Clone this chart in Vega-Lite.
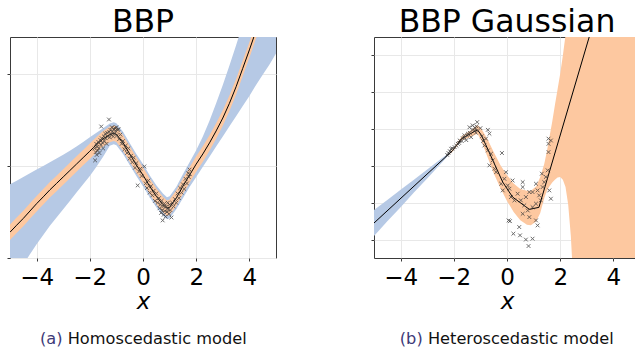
{
  "$schema": "https://vega.github.io/schema/vega-lite/v6.json",
  "background": "white",
  "padding": {"left": 6, "top": 6, "right": 0, "bottom": 0},
  "config": {
    "font": "DejaVu Sans",
    "view": {"stroke": "#3a3a3a", "strokeWidth": 1},
    "axis": {"grid": true, "gridColor": "#e8e8e8", "gridWidth": 1, "tickColor": "#3a3a3a", "tickSize": 3, "domain": false, "labelFontSize": 23, "labelColor": "#000", "labelPadding": 5, "titleFontSize": 23, "titleFontWeight": "normal", "titleColor": "#000", "titleFontStyle": "italic", "titlePadding": 1},
    "title": {"fontSize": 31.5, "fontWeight": "normal", "color": "#000", "baseline": "alphabetic", "offset": -1, "anchor": "middle", "frame": "group"}
  },
  "datasets": {
    "A": [
      {"x": -5, "m": -3.6, "olo": -4.02, "ohi": -3.18, "blo": -6.4, "bhi": -1.0},
      {"x": -4.75, "m": -3.22, "olo": -3.64, "ohi": -2.8, "blo": -5.9, "bhi": -0.8},
      {"x": -4.5, "m": -2.85, "olo": -3.27, "ohi": -2.43, "blo": -5.35, "bhi": -0.6},
      {"x": -4.25, "m": -2.45, "olo": -2.87, "ohi": -2.03, "blo": -4.8, "bhi": -0.4},
      {"x": -4, "m": -2.05, "olo": -2.47, "ohi": -1.63, "blo": -4.25, "bhi": -0.2},
      {"x": -3.75, "m": -1.68, "olo": -2.1, "ohi": -1.26, "blo": -3.75, "bhi": 0.0},
      {"x": -3.5, "m": -1.3, "olo": -1.72, "ohi": -0.88, "blo": -3.25, "bhi": 0.2},
      {"x": -3.25, "m": -0.95, "olo": -1.37, "ohi": -0.53, "blo": -2.8, "bhi": 0.4},
      {"x": -3, "m": -0.6, "olo": -1.02, "ohi": -0.18, "blo": -2.35, "bhi": 0.6},
      {"x": -2.75, "m": -0.25, "olo": -0.67, "ohi": 0.17, "blo": -1.9, "bhi": 0.82},
      {"x": -2.5, "m": 0.1, "olo": -0.32, "ohi": 0.52, "blo": -1.45, "bhi": 1.05},
      {"x": -2.25, "m": 0.45, "olo": 0.03, "ohi": 0.87, "blo": -1.0, "bhi": 1.3},
      {"x": -2, "m": 0.8, "olo": 0.38, "ohi": 1.22, "blo": -0.55, "bhi": 1.55},
      {"x": -1.75, "m": 1.15, "olo": 0.73, "ohi": 1.57, "blo": -0.05, "bhi": 1.8},
      {"x": -1.5, "m": 1.47, "olo": 1.05, "ohi": 1.89, "blo": 0.5, "bhi": 2.05},
      {"x": -1.25, "m": 1.7, "olo": 1.28, "ohi": 2.12, "blo": 1.1, "bhi": 2.3},
      {"x": -1.1, "m": 1.77, "olo": 1.35, "ohi": 2.19, "blo": 1.17, "bhi": 2.37},
      {"x": -1.0, "m": 1.72, "olo": 1.3, "ohi": 2.14, "blo": 1.12, "bhi": 2.32},
      {"x": -0.75, "m": 1.25, "olo": 0.83, "ohi": 1.67, "blo": 0.65, "bhi": 1.85},
      {"x": -0.5, "m": 0.65, "olo": 0.23, "ohi": 1.07, "blo": 0.05, "bhi": 1.25},
      {"x": -0.25, "m": 0.05, "olo": -0.37, "ohi": 0.47, "blo": -0.55, "bhi": 0.65},
      {"x": 0, "m": -0.5, "olo": -0.92, "ohi": -0.08, "blo": -1.1, "bhi": 0.1},
      {"x": 0.25, "m": -1.1, "olo": -1.52, "ohi": -0.68, "blo": -1.7, "bhi": -0.5},
      {"x": 0.5, "m": -1.65, "olo": -2.07, "ohi": -1.23, "blo": -2.25, "bhi": -1.05},
      {"x": 0.75, "m": -2.1, "olo": -2.52, "ohi": -1.68, "blo": -2.7, "bhi": -1.5},
      {"x": 0.9, "m": -2.3, "olo": -2.72, "ohi": -1.88, "blo": -2.9, "bhi": -1.7},
      {"x": 1.0, "m": -2.25, "olo": -2.67, "ohi": -1.83, "blo": -2.85, "bhi": -1.65},
      {"x": 1.25, "m": -1.75, "olo": -2.17, "ohi": -1.33, "blo": -2.35, "bhi": -1.15},
      {"x": 1.5, "m": -1.1, "olo": -1.52, "ohi": -0.68, "blo": -1.75, "bhi": -0.45},
      {"x": 1.75, "m": -0.5, "olo": -0.92, "ohi": -0.08, "blo": -1.15, "bhi": 0.2},
      {"x": 2.0, "m": 0.1, "olo": -0.32, "ohi": 0.52, "blo": -0.6, "bhi": 0.85},
      {"x": 2.25, "m": 0.65, "olo": 0.23, "ohi": 1.07, "blo": -0.05, "bhi": 1.6},
      {"x": 2.5, "m": 1.25, "olo": 0.83, "ohi": 1.67, "blo": 0.5, "bhi": 2.45},
      {"x": 2.75, "m": 1.9, "olo": 1.48, "ohi": 2.32, "blo": 1.05, "bhi": 3.4},
      {"x": 3.0, "m": 2.6, "olo": 2.18, "ohi": 3.02, "blo": 1.6, "bhi": 4.4},
      {"x": 3.25, "m": 3.4, "olo": 2.98, "ohi": 3.82, "blo": 2.15, "bhi": 5.45},
      {"x": 3.5, "m": 4.3, "olo": 3.88, "ohi": 4.72, "blo": 2.7, "bhi": 6.55},
      {"x": 3.75, "m": 5.3, "olo": 4.88, "ohi": 5.72, "blo": 3.25, "bhi": 7.7},
      {"x": 4.0, "m": 6.3, "olo": 5.88, "ohi": 6.72, "blo": 3.8, "bhi": 8.9},
      {"x": 4.25, "m": 7.35, "olo": 6.93, "ohi": 7.77, "blo": 4.4, "bhi": 10.1},
      {"x": 4.5, "m": 8.4, "olo": 7.98, "ohi": 8.82, "blo": 4.95, "bhi": 11.3},
      {"x": 4.75, "m": 9.45, "olo": 9.03, "ohi": 9.87, "blo": 5.5, "bhi": 12.5},
      {"x": 5.0, "m": 10.5, "olo": 10.08, "ohi": 10.92, "blo": 6.1, "bhi": 13.7}
    ],
    "pA": [
      {"x": -1.82, "y": 0.95}, {"x": -1.8, "y": 0.3}, {"x": -1.78, "y": 0.75}, {"x": -1.76, "y": 1.2}, {"x": -1.74, "y": 0.6},
      {"x": -1.72, "y": 1.05}, {"x": -1.7, "y": 0.85}, {"x": -1.68, "y": 1.3}, {"x": -1.66, "y": 0.95}, {"x": -1.64, "y": 0.7},
      {"x": -1.6, "y": 1.4}, {"x": -1.58, "y": 1.15}, {"x": -1.57, "y": 2.14}, {"x": -1.55, "y": 1.5}, {"x": -1.52, "y": 1.25},
      {"x": -1.5, "y": 0.95}, {"x": -1.47, "y": 1.6}, {"x": -1.45, "y": 1.35}, {"x": -1.42, "y": 1.75}, {"x": -1.4, "y": 1.5},
      {"x": -1.37, "y": 1.2}, {"x": -1.35, "y": 1.8}, {"x": -1.32, "y": 1.6}, {"x": -1.28, "y": 2.52}, {"x": -1.27, "y": 1.85},
      {"x": -1.25, "y": 1.55}, {"x": -1.22, "y": 1.95}, {"x": -1.2, "y": 1.7}, {"x": -1.17, "y": 2.1}, {"x": -1.15, "y": 1.85},
      {"x": -1.12, "y": 1.6}, {"x": -1.1, "y": 2.0}, {"x": -1.08, "y": 1.75}, {"x": -1.05, "y": 2.05}, {"x": -1.03, "y": 1.9},
      {"x": -1.0, "y": 2.1}, {"x": -0.98, "y": 1.65}, {"x": -0.95, "y": 1.95}, {"x": -0.92, "y": 2.0}, {"x": -0.9, "y": 1.45},
      {"x": -0.85, "y": 1.7}, {"x": -0.8, "y": 1.2}, {"x": -0.75, "y": 1.35}, {"x": -0.7, "y": 0.9}, {"x": -0.65, "y": 1.1},
      {"x": -0.6, "y": 0.7}, {"x": -0.55, "y": 0.95}, {"x": -0.5, "y": 0.4}, {"x": -0.45, "y": 0.55}, {"x": -0.4, "y": 0.2},
      {"x": -0.35, "y": 0.45}, {"x": -0.3, "y": -0.1}, {"x": -0.25, "y": 0.15}, {"x": -0.2, "y": -1.06}, {"x": -0.15, "y": -0.3},
      {"x": -0.1, "y": -0.15}, {"x": -0.05, "y": -0.55}, {"x": 0.05, "y": -0.03}, {"x": 0.1, "y": -0.95}, {"x": 0.15, "y": -1.2},
      {"x": 0.2, "y": -0.8}, {"x": 0.25, "y": -1.45}, {"x": 0.3, "y": -1.1}, {"x": 0.35, "y": -1.6}, {"x": 0.4, "y": -1.35},
      {"x": 0.45, "y": -1.9}, {"x": 0.5, "y": -1.5}, {"x": 0.55, "y": -2.0}, {"x": 0.6, "y": -1.75}, {"x": 0.62, "y": -2.3},
      {"x": 0.65, "y": -2.1}, {"x": 0.68, "y": -2.55}, {"x": 0.7, "y": -1.9}, {"x": 0.72, "y": -2.4}, {"x": 0.74, "y": -2.96},
      {"x": 0.76, "y": -2.2}, {"x": 0.78, "y": -2.65}, {"x": 0.8, "y": -2.05}, {"x": 0.82, "y": -2.45}, {"x": 0.85, "y": -2.75},
      {"x": 0.88, "y": -2.2}, {"x": 0.9, "y": -2.5}, {"x": 0.93, "y": -2.0}, {"x": 0.95, "y": -2.35}, {"x": 0.98, "y": -2.6},
      {"x": 1.0, "y": -2.1}, {"x": 1.03, "y": -2.4}, {"x": 1.07, "y": -2.8}, {"x": 1.1, "y": -2.0}, {"x": 1.15, "y": -2.2},
      {"x": 1.2, "y": -1.8}, {"x": 1.25, "y": -2.0}, {"x": 1.3, "y": -1.5}, {"x": 1.35, "y": -1.75}, {"x": 1.4, "y": -1.2},
      {"x": 1.45, "y": -1.45}, {"x": 1.5, "y": -1.0}, {"x": 1.55, "y": -1.25}, {"x": 1.6, "y": -0.7}, {"x": 1.65, "y": -0.95},
      {"x": 1.7, "y": -0.4}, {"x": 1.72, "y": -0.6}, {"x": 1.75, "y": -0.2}, {"x": 1.76, "y": -0.45}
    ],
    "mB": [
      {"x": -5, "m": -3.1}, {"x": -2.04, "m": 0.84}, {"x": -1.71, "m": 1.48}, {"x": -1.11, "m": 1.96},
      {"x": -0.96, "m": 1.66}, {"x": -0.16, "m": -0.88}, {"x": 0.21, "m": -1.69}, {"x": 0.84, "m": -2.36},
      {"x": 1.2, "m": -2.25}, {"x": 3.09, "m": 7.0}, {"x": 5, "m": 16.35}
    ],
    "bB": [
      {"x": -5, "lo": -3.8, "hi": -2.4}, {"x": -4.5, "lo": -3.01, "hi": -1.85}, {"x": -4, "lo": -2.24, "hi": -1.3},
      {"x": -3.5, "lo": -1.45, "hi": -0.75}, {"x": -3, "lo": -0.68, "hi": -0.2}, {"x": -2.5, "lo": 0.1, "hi": 0.36},
      {"x": -2.1, "lo": 0.73, "hi": 0.79}
    ],
    "oB": [
      {"x": -5, "lo": -3.13, "hi": -3.07}, {"x": -2.5, "lo": 0.2, "hi": 0.26}, {"x": -2.04, "lo": 0.78, "hi": 0.9},
      {"x": -1.71, "lo": 1.38, "hi": 1.6}, {"x": -1.4, "lo": 1.55, "hi": 1.9}, {"x": -1.11, "lo": 1.75, "hi": 2.22},
      {"x": -0.96, "lo": 1.35, "hi": 2.0}, {"x": -0.75, "lo": 0.55, "hi": 1.5}, {"x": -0.5, "lo": -0.4, "hi": 0.75},
      {"x": -0.25, "lo": -1.2, "hi": 0.05}, {"x": 0, "lo": -1.9, "hi": -0.5}, {"x": 0.25, "lo": -2.5, "hi": -0.95},
      {"x": 0.5, "lo": -2.95, "hi": -1.25}, {"x": 0.75, "lo": -3.2, "hi": -1.35}, {"x": 0.9, "lo": -3.22, "hi": -1.35},
      {"x": 1.1, "lo": -3.0, "hi": -1.1}, {"x": 1.25, "lo": -2.55, "hi": -0.6}, {"x": 1.4, "lo": -1.75, "hi": 0.1},
      {"x": 1.5, "lo": -1.35, "hi": 0.8}, {"x": 1.6, "lo": -1.1, "hi": 1.6}, {"x": 1.7, "lo": -0.9, "hi": 2.4},
      {"x": 1.8, "lo": -0.75, "hi": 3.3}, {"x": 1.9, "lo": -0.63, "hi": 4.15}, {"x": 2.0, "lo": -0.6, "hi": 5.0},
      {"x": 2.1, "lo": -0.75, "hi": 6.0}, {"x": 2.2, "lo": -1.15, "hi": 7.1}, {"x": 2.3, "lo": -2.1, "hi": 8.3},
      {"x": 2.4, "lo": -3.8, "hi": 9.5}, {"x": 2.5, "lo": -6.5, "hi": 11}, {"x": 2.6, "lo": -10, "hi": 13},
      {"x": 5, "lo": -30, "hi": 30}
    ],
    "pB": [
      {"x": -2.25, "y": 0.6}, {"x": -2.2, "y": 0.7}, {"x": -2.15, "y": 0.8}, {"x": -2.1, "y": 0.93}, {"x": -2.05, "y": 0.95},
      {"x": -1.97, "y": 1.02}, {"x": -1.9, "y": 1.1}, {"x": -1.85, "y": 1.2}, {"x": -1.8, "y": 1.25}, {"x": -1.78, "y": 1.38},
      {"x": -1.7, "y": 1.35}, {"x": -1.66, "y": 1.5}, {"x": -1.6, "y": 1.66}, {"x": -1.6, "y": 1.55}, {"x": -1.53, "y": 1.4},
      {"x": -1.5, "y": 1.65}, {"x": -1.47, "y": 1.75}, {"x": -1.41, "y": 2.1}, {"x": -1.4, "y": 1.8}, {"x": -1.35, "y": 1.56},
      {"x": -1.3, "y": 1.95}, {"x": -1.29, "y": 2.2}, {"x": -1.22, "y": 1.93}, {"x": -1.2, "y": 2.05}, {"x": -1.17, "y": 1.8},
      {"x": -1.15, "y": 2.15}, {"x": -1.12, "y": 2.38}, {"x": -1.0, "y": 2.05}, {"x": -0.95, "y": 1.6}, {"x": -0.9, "y": 1.35},
      {"x": -0.85, "y": 1.11}, {"x": -0.79, "y": 1.48}, {"x": -0.72, "y": 1.96}, {"x": -0.72, "y": 0.84}, {"x": -0.66, "y": 1.75},
      {"x": -0.66, "y": 0.03}, {"x": -0.6, "y": 0.66}, {"x": -0.54, "y": 0.3}, {"x": -0.47, "y": -0.15}, {"x": -0.41, "y": -0.34},
      {"x": -0.22, "y": -0.97}, {"x": -0.19, "y": 0.7}, {"x": -0.16, "y": -1.33}, {"x": -0.1, "y": -0.7}, {"x": -0.04, "y": -0.34},
      {"x": 0.03, "y": -1.06}, {"x": 0.06, "y": -2.96}, {"x": 0.09, "y": -1.24}, {"x": 0.11, "y": -3.0}, {"x": 0.15, "y": -1.69},
      {"x": 0.21, "y": -0.79}, {"x": 0.24, "y": -3.68}, {"x": 0.28, "y": -1.87}, {"x": 0.4, "y": -1.51}, {"x": 0.46, "y": -3.32},
      {"x": 0.49, "y": -3.77}, {"x": 0.52, "y": -1.87}, {"x": 0.59, "y": -0.88}, {"x": 0.59, "y": -1.15}, {"x": 0.59, "y": -2.6},
      {"x": 0.65, "y": -2.14}, {"x": 0.71, "y": -1.69}, {"x": 0.71, "y": -4.0}, {"x": 0.78, "y": -2.42}, {"x": 0.81, "y": -4.35},
      {"x": 0.84, "y": -1.42}, {"x": 0.84, "y": -2.78}, {"x": 0.96, "y": -1.42}, {"x": 0.96, "y": -2.24}, {"x": 0.96, "y": -3.95},
      {"x": 1.09, "y": -2.05}, {"x": 1.09, "y": -2.96}, {"x": 1.09, "y": -0.97}, {"x": 1.15, "y": -3.23}, {"x": 1.15, "y": -1.33},
      {"x": 1.21, "y": -1.6}, {"x": 1.27, "y": -1.87}, {"x": 1.31, "y": -0.42}, {"x": 1.34, "y": -1.15}, {"x": 1.4, "y": -0.88},
      {"x": 1.46, "y": -0.6}, {"x": 1.53, "y": -0.24}, {"x": 1.56, "y": 0.75}, {"x": 1.56, "y": 1.2}, {"x": 1.56, "y": 1.48},
      {"x": 1.59, "y": -1.33}, {"x": 1.65, "y": -1.78}, {"x": 1.65, "y": 1.38}
    ]
  },
  "spacing": 93,
  "hconcat": [
    {
      "spacing": 16,
      "vconcat": [
        {
          "width": 266, "height": 221,
          "title": {"text": "BBP"},
          "encoding": {
            "x": {"field": "x", "type": "quantitative", "title": "x",
                  "scale": {"domain": [-5, 5], "nice": false, "zero": false},
                  "axis": {"values": [-4, -2, 0, 2, 4]}}
          },
          "layer": [
            {"data": {"name": "A"}, "mark": {"type": "area", "color": "#b6c9e5", "clip": true},
             "encoding": {"y": {"field": "blo", "type": "quantitative", "title": null,
                                "scale": {"domain": [-5, 7], "nice": false, "zero": false},
                                "axis": {"labels": false, "values": [-5, 0, 5]}},
                          "y2": {"field": "bhi"}}},
            {"data": {"name": "A"}, "mark": {"type": "area", "color": "#fdc8a0", "clip": true},
             "encoding": {"y": {"field": "olo", "type": "quantitative", "title": null}, "y2": {"field": "ohi"}}},
            {"data": {"name": "A"}, "mark": {"type": "line", "color": "#000", "strokeWidth": 1, "clip": true},
             "encoding": {"y": {"field": "m", "type": "quantitative", "title": null}}},
            {"data": {"name": "pA"}, "mark": {"type": "point", "shape": "M-1,-1L1,1M-1,1L1,-1", "filled": false, "stroke": "#3c3c3c", "strokeWidth": 1, "size": 14, "opacity": 0.75, "clip": true},
             "encoding": {"y": {"field": "y", "type": "quantitative", "title": null}}}
          ]
        },
        {
          "width": 266, "height": 18,
          "view": {"stroke": null},
          "data": {"values": [{}]},
          "layer": [
            {"mark": {"type": "text", "text": "(a)", "align": "left", "baseline": "middle", "dx": -103, "fontSize": 16.2, "color": "#3d3a78"}, "encoding": {}},
            {"mark": {"type": "text", "text": "Homoscedastic model", "align": "left", "baseline": "middle", "dx": -75.3, "fontSize": 16.2, "color": "#111"}, "encoding": {}}
          ]
        }
      ]
    },
    {
      "spacing": 16,
      "vconcat": [
        {
          "width": 266, "height": 221,
          "title": {"text": "BBP Gaussian"},
          "encoding": {
            "x": {"field": "x", "type": "quantitative", "title": "x",
                  "scale": {"domain": [-5, 5], "nice": false, "zero": false},
                  "axis": {"values": [-4, -2, 0, 2, 4]}}
          },
          "layer": [
            {"data": {"name": "oB"}, "mark": {"type": "area", "color": "#fdc8a0", "clip": true},
             "encoding": {"y": {"field": "lo", "type": "quantitative", "title": null,
                                "scale": {"domain": [-5, 7], "nice": false, "zero": false},
                                "axis": {"labels": false, "values": [-4, -2, 0, 2, 4, 6]}},
                          "y2": {"field": "hi"}}},
            {"data": {"name": "bB"}, "mark": {"type": "area", "color": "#b6c9e5", "clip": true},
             "encoding": {"y": {"field": "lo", "type": "quantitative", "title": null}, "y2": {"field": "hi"}}},
            {"data": {"name": "mB"}, "mark": {"type": "line", "color": "#000", "strokeWidth": 1, "clip": true},
             "encoding": {"y": {"field": "m", "type": "quantitative", "title": null}}},
            {"data": {"name": "pB"}, "mark": {"type": "point", "shape": "M-1,-1L1,1M-1,1L1,-1", "filled": false, "stroke": "#3c3c3c", "strokeWidth": 1, "size": 14, "opacity": 0.75, "clip": true},
             "encoding": {"y": {"field": "y", "type": "quantitative", "title": null}}}
          ]
        },
        {
          "width": 266, "height": 18,
          "view": {"stroke": null},
          "data": {"values": [{}]},
          "layer": [
            {"mark": {"type": "text", "text": "(b)", "align": "left", "baseline": "middle", "dx": -107.2, "fontSize": 16.2, "color": "#3d3a78"}, "encoding": {}},
            {"mark": {"type": "text", "text": "Heteroscedastic model", "align": "left", "baseline": "middle", "dx": -79.1, "fontSize": 16.2, "color": "#111"}, "encoding": {}}
          ]
        }
      ]
    }
  ]
}
